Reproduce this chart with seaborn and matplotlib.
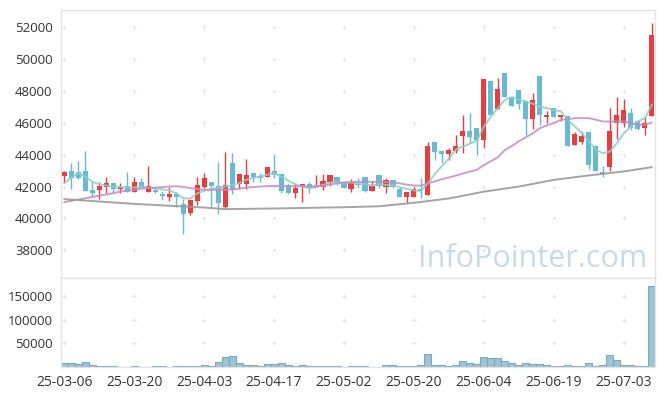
import numpy as np
import pandas as pd
import matplotlib
matplotlib.use("Agg")
import matplotlib.pyplot as plt
import seaborn as sns

# 일봉 데이터
dates = ["25-03-06", "25-03-20", "25-04-03", "25-04-17", "25-05-02",
         "25-05-20", "25-06-04", "25-06-19", "25-07-03"]
date_pos = [0, 10, 20, 30, 40, 50, 60, 70, 80]

opens = [42680, 42980, 42900, 42980, 41790, 41790, 42000, 42250, 41830, 42040,
         41680, 42310, 41680, 41790, 41540, 41370, 41540, 40890, 40320, 41120,
         42000, 42270, 42060, 40740, 43470, 42170, 42170, 42860, 42670, 42590,
         42980, 42780, 42100, 41620, 42000, 42170, 41960, 42000, 42310, 42590,
         42280, 41830, 42130, 42590, 41750, 42740, 42000, 42420, 41830, 41330,
         41330, 41830, 41480, 44830, 44240, 44050, 44240, 45190, 45500, 45670,
         44930, 48640, 46880, 49170, 47660, 48040, 47390, 46240, 48960, 46400,
         46930, 46400, 46440, 44620, 44770, 45440, 44520, 42900, 43260, 45990,
         45990, 46620, 46130, 45670, 46440]
highs = [43000, 43490, 43600, 44240, 42310, 42310, 42630, 42250, 42250, 42940,
         42630, 42530, 43320, 42000, 41750, 42000, 41680, 41210, 41160, 42630,
         42840, 42270, 43570, 44200, 44140, 42780, 43720, 42860, 42840, 43220,
         44000, 42780, 42250, 42250, 42170, 42310, 42740, 42780, 42740, 42590,
         42280, 42460, 42530, 42590, 42380, 42740, 42530, 42420, 41960, 41680,
         41960, 42530, 44770, 44830, 44240, 44410, 45250, 46490, 46620, 45670,
         48770, 48640, 48820, 49170, 47660, 48040, 47390, 47870, 48960, 46720,
         46930, 46500, 46440, 45460, 45460, 45440, 44520, 43280, 46930, 47620,
         47500, 46930, 46200, 46360, 52310]
lows = [42250, 41850, 42500, 41730, 41370, 41230, 41620, 41580, 41620, 41680,
        41680, 41930, 41680, 41620, 41160, 41120, 40740, 39000, 40220, 40850,
        41900, 40740, 40280, 40640, 41540, 41830, 41830, 42310, 42310, 42590,
        42530, 41580, 41540, 41270, 41050, 41620, 41960, 41790, 42040, 42120,
        41900, 41680, 41900, 41680, 41750, 41900, 41620, 41900, 41370, 40950,
        41330, 41270, 41480, 43680, 43470, 43680, 44100, 44100, 44730, 44000,
        44450, 46500, 46880, 47660, 47070, 46870, 45250, 45610, 45880, 45990,
        46400, 46090, 44560, 44620, 44680, 43090, 42990, 42630, 43000, 44980,
        45770, 45570, 45570, 45250, 46440]
closes = [42900, 42560, 42560, 41730, 41620, 42040, 42250, 41830, 41980, 41680,
          42310, 41930, 42040, 41680, 41430, 41540, 41370, 40260, 41160, 42100,
          42530, 42060, 40950, 42100, 41790, 42780, 42740, 42630, 42540, 43220,
          42740, 41750, 41580, 41900, 42170, 41900, 42060, 42340, 42740, 42250,
          41900, 42310, 42100, 41750, 42040, 42040, 42420, 42000, 41370, 41680,
          41830, 41750, 44560, 44200, 44050, 44300, 44520, 45500, 45140, 44930,
          48770, 46500, 48140, 47660, 47070, 47200, 46240, 47450, 46500, 46500,
          46400, 46500, 44560, 45290, 45190, 43360, 42990, 42800, 45500, 46500,
          46820, 45670, 45610, 45990, 51540]
volumes = [8400, 8400, 6300, 10500, 4900, 2100, 2100, 2100, 1000, 1000,
           2100, 500, 500, 2100, 2100, 500, 2100, 2100, 2100, 2100,
           4200, 2100, 11000, 21000, 23000, 8400, 4900, 4900, 2800, 6300,
           6300, 8400, 4900, 2800, 4900, 2100, 2100, 2100, 2100, 2100,
           500, 2100, 2100, 2100, 500, 500, 4200, 4200, 2100, 2100,
           2100, 4200, 28000, 4200, 4200, 2100, 4200, 12600, 8400, 6300,
           21000, 19000, 19000, 12600, 8400, 4200, 8400, 6300, 6300, 4200,
           2100, 2100, 5000, 3000, 2000, 7500, 3000, 5000, 25000, 14500,
           5000, 5000, 1500, 1500, 172000]

# 이동평균선
ma5 = [42210, 42550, 42840, 42630, 42310, 42150, 42060, 42000, 41980, 41930,
       41950, 42000, 41930, 41900, 41830, 41750, 41580, 41270, 41230, 41570,
       41730, 41860, 41920, 42000, 42100, 42210, 42420, 42540, 42630, 42740,
       42840, 42630, 42380, 42150, 42000, 41900, 41960, 42100, 42250, 42280,
       42250, 42250, 42210, 42150, 42060, 42150, 42100, 42080, 41950, 41850,
       41750, 41720, 42210, 42800, 43280, 43770, 44330, 44510, 44700, 44880,
       45770, 46400, 46930, 47450, 47620, 47450, 47350, 47200, 47030, 46930,
       46820, 46720, 46190, 45770, 45360, 44830, 44310, 44100, 44200, 44730,
       45360, 45770, 46090, 46300, 47140]
ma20 = [41020, 41100, 41180, 41260, 41350, 41420, 41500, 41580, 41680, 41750,
        41800, 41860, 41900, 41930, 41960, 42000, 42020, 41980, 41900, 41840,
        41800, 41790, 41790, 41800, 41820, 41870, 41930, 41970, 42000, 42020,
        42040, 42040, 42030, 42020, 42010, 42000, 42020, 42060, 42120, 42200,
        42250, 42280, 42300, 42300, 42300, 42290, 42280, 42260, 42200, 42120,
        42060, 42060, 42210, 42330, 42460, 42570, 42690, 42820, 42940, 43050,
        43350, 43600, 43850, 44300, 44550, 44850, 45100, 45350, 45670, 45850,
        46000, 46190, 46240, 46300, 46300, 46300, 46200, 46090, 46090, 46090,
        46090, 46000, 45880, 45880, 46030]
ma60_pos = [0, 10, 20, 23, 30, 40, 45, 50, 55, 60, 65, 70, 75, 80, 84]
ma60 = [41210, 40910, 40680, 40580, 40620, 40700, 40760, 40980, 41250,
        41680, 42000, 42420, 42700, 42950, 43220]

df = pd.DataFrame({"open": opens, "high": highs, "low": lows,
                   "close": closes, "volume": volumes,
                   "ma5": ma5, "ma20": ma20})
df["idx"] = np.arange(len(df))
df["up"] = df["close"] >= df["open"]

red = "#f03a3c"
blue = "#62bcd6"
grid_c = "#e4e4e4"
spine_c = "#e3e3e3"

sns.set_style("white")
plt.rcParams["font.family"] = ["Open Sans", "DejaVu Sans"]

fig = plt.figure(figsize=(6.65, 3.96), dpi=100)
ax = fig.add_axes([61/665, 1-278/396, 594/665, 268/396])
axv = fig.add_axes([61/665, 1-367/396, 594/665, 89/396], sharex=ax)

# 캔들
colors = np.where(df["up"], red, blue)
ax.vlines(df["idx"], df["low"], df["high"], colors=colors, linewidth=1, zorder=3)
body_lo = df[["open", "close"]].min(axis=1)
body_h = (df["close"] - df["open"]).abs().clip(lower=40)
ax.bar(df["idx"], body_h, bottom=body_lo, width=0.72, color=colors,
       linewidth=0, zorder=4)

# 이동평균선
sns.lineplot(x=df["idx"], y=df["ma5"], ax=ax, color="#8ccfbf", lw=1.4, alpha=0.85, zorder=5)
sns.lineplot(x=df["idx"], y=df["ma20"], ax=ax, color="#c98ac6", lw=1.4, alpha=0.85, zorder=5)
sns.lineplot(x=ma60_pos, y=ma60, ax=ax, color="#9a9a9a", lw=1.4, alpha=0.9, zorder=5)

ax.set_xlim(-0.45, 84.45)
ax.set_ylim(36250, 53100)
price_ticks = list(range(38000, 52001, 2000))
ax.set_yticks(price_ticks)
ax.set_yticklabels([str(t) for t in price_ticks])
ax.set_xlabel("")
ax.set_ylabel("")
ax.tick_params(axis="x", length=0, labelbottom=False)

# 그리드 십자 표시
gx, gy = np.meshgrid(date_pos, price_ticks)
ax.scatter(gx.ravel(), gy.ravel(), marker="+", s=8, color=grid_c, linewidths=0.7, zorder=1)

ax.text(0.9865, 0.041, "InfoPointer.com", transform=ax.transAxes, ha="right",
        va="baseline", fontsize=22, color="#c6dbe5", family="Open Sans", zorder=2)

# 거래량
vdf = pd.DataFrame({"idx": df["idx"], "volume": volumes})
sns.barplot(data=vdf, x="idx", y="volume", ax=axv, color="#9cc4d6",
            edgecolor="#7aa9bf", linewidth=0.8, width=1.0, saturation=1, native_scale=True)
axv.set_ylim(0, 189000)
vol_ticks = [50000, 100000, 150000]
axv.set_yticks(vol_ticks)
axv.set_yticklabels([str(t) for t in vol_ticks])
vx, vy = np.meshgrid(date_pos, vol_ticks)
axv.scatter(vx.ravel(), vy.ravel(), marker="+", s=8, color=grid_c, linewidths=0.7, zorder=0)
axv.set_xticks(date_pos)
axv.set_xticklabels(dates)
axv.set_xlim(-0.45, 84.45)
axv.set_xlabel("")
axv.set_ylabel("")

for a in (ax, axv):
    for s in a.spines.values():
        s.set_color(spine_c)
        s.set_linewidth(1)
    a.tick_params(axis="y", length=0, pad=6, labelsize=9.5, labelcolor="#333333")
axv.tick_params(axis="x", length=3, color=spine_c, pad=3, labelsize=10, labelcolor="#333333")

fig.savefig("out.png", dpi=100, facecolor="white")
